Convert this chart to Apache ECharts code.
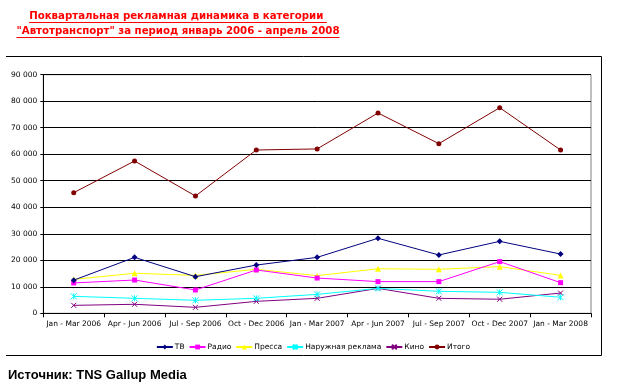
<!DOCTYPE html>
<html><head><meta charset="utf-8">
<script src="https://cdn.jsdelivr.net/npm/echarts@6/dist/echarts.min.js"></script>
<style>html,body{margin:0;padding:0;background:#fff}#c{width:626px;height:386px}</style>
</head><body><div id="c"></div>
<script>
const categories = ["Jan - Mar 2006","Apr - Jun 2006","Jul - Sep 2006","Oct - Dec 2006","Jan - Mar 2007","Apr - Jun 2007","Jul - Sep 2007","Oct - Dec 2007","Jan - Mar 2008"];
const tv      = [12500, 21100, 13800, 18200, 21100, 28300, 22000, 27150, 22350];
const radio   = [11450, 12550, 8800, 16350, 13300, 11950, 11950, 19500, 11550];
const press   = [12800, 15100, 14300, 16600, 14200, 16800, 16600, 17600, 14300];
const outdoor = [6400, 5650, 4900, 5650, 7150, 9400, 8300, 7900, 6050];
const cinema  = [3000, 3400, 2250, 4500, 5650, 9400, 5650, 5300, 7650];
const total   = [45500, 57450, 44250, 61600, 62000, 75550, 64000, 77550, 61600];
const seriesNames = ["ТВ","Радио","Пресса","Наружная реклама","Кино","Итого"];
const titleLines = ["Поквартальная рекламная динамика в категории ", "\"Автотранспорт\" за период январь 2006 - апрель 2008"];
const sourceText = "Источник: TNS Gallup Media";

const colors = ["#000080","#FF00FF","#FFFF00","#00FFFF","#800080","#800000"];
const symbols = ["diamond","rect","triangle","path://M0,0L2,2M2,0L0,2M1,0L1,2","path://M0,0L2,2M2,0L0,2","circle"];
const symSizes = [6,5,6,6,5,5];
const datas = [tv, radio, press, outdoor, cinema, total];

const font = 'Tahoma, "DejaVu Sans", Verdana, sans-serif';
const titleFont = 'bold 10.2px ' + font;
const ctx = document.createElement('canvas').getContext('2d');
ctx.font = titleFont;
const w1 = ctx.measureText(titleLines[0]).width, w2 = ctx.measureText(titleLines[1]).width;
const cx = 178;

const chart = echarts.init(document.getElementById('c'));
chart.setOption({
  animation:false,
  textStyle:{fontFamily:font},
  grid:{left:43.3, right:35, top:74.7, bottom:72.7, show:true, borderColor:'#808080', borderWidth:1, backgroundColor:'transparent'},
  xAxis:{type:'category', data:categories, boundaryGap:true,
    axisLine:{lineStyle:{color:'#000', width:1}},
    axisTick:{show:true, length:4, lineStyle:{color:'#000'}},
    axisLabel:{fontSize:7.5, color:'#000', margin:7, interval:0, fontFamily:font}},
  yAxis:{type:'value', min:0, max:90000, interval:10000,
    axisLine:{show:true, lineStyle:{color:'#000', width:1}},
    axisTick:{show:true, length:3, lineStyle:{color:'#000'}},
    splitLine:{lineStyle:{color:'#000', width:1}},
    axisLabel:{fontSize:7.5, color:'#000', margin:6, fontFamily:font,
      formatter:v=>String(v).replace(/\B(?=(\d{3})+(?!\d))/g,' ')}},
  legend:{bottom:30, left:'center', itemWidth:16, itemHeight:6, itemGap:4, padding:[5,5,5,5],
    textStyle:{fontSize:7.5, color:'#000', fontFamily:font, padding:[0,0,0,-3]},
    data:seriesNames},
  series: seriesNames.map((n,i)=>({
    name:n, type:'line', data:datas[i], symbol:symbols[i], symbolSize:symSizes[i],
    showAllSymbol:true,
    lineStyle:{color:colors[i], width:1},
    itemStyle:{color:colors[i], borderColor:colors[i], borderWidth:(i===3||i===4)?1:0},
    z: 10-i
  })),
  graphic:[
    {type:'line', shape:{x1:6,y1:56.5,x2:601.5,y2:56.5}, style:{stroke:'#000',lineWidth:1}},
    {type:'line', shape:{x1:601.5,y1:56.5,x2:601.5,y2:355.5}, style:{stroke:'#000',lineWidth:1}},
    {type:'line', shape:{x1:6,y1:355.5,x2:601.5,y2:355.5}, style:{stroke:'#000',lineWidth:1}},
    {type:'text', x:cx - w1/2, y:11, style:{text:titleLines[0], fill:'#FF0000', font:titleFont}},
    {type:'text', x:cx - w2/2, y:26, style:{text:titleLines[1], fill:'#FF0000', font:titleFont}},
    {type:'line', shape:{x1:cx - w1/2,y1:22.5,x2:cx + w1/2,y2:22.5}, style:{stroke:'#FF0000',lineWidth:1}},
    {type:'line', shape:{x1:cx - w2/2,y1:37.5,x2:cx + w2/2,y2:37.5}, style:{stroke:'#FF0000',lineWidth:1}},
    {type:'text', x:8, y:369, style:{text:sourceText, fill:'#000', font:'bold 13px "Liberation Sans Narrow", "Arial Narrow", "Liberation Sans", sans-serif'}}
  ]
});
</script></body></html>
